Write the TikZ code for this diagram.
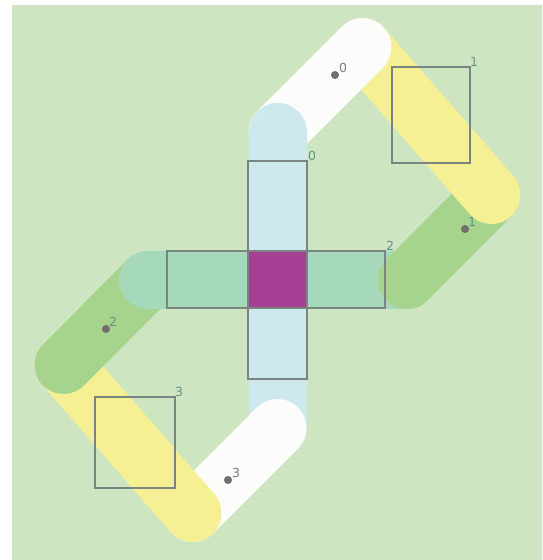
\documentclass[tikz,border=0pt]{standalone}
\usepackage{fontspec}
\setmainfont{DejaVu Sans}
\definecolor{bggreen}{RGB}{205,229,193}
\definecolor{segwhite}{RGB}{252,252,250}
\definecolor{segyellow}{RGB}{245,240,148}
\definecolor{seggreen}{RGB}{166,212,140}
\definecolor{segteal}{RGB}{166,216,186}
\definecolor{segblue}{RGB}{206,233,238}
\definecolor{cellmag}{RGB}{166,64,148}
\definecolor{boxgray}{RGB}{122,132,128}
\definecolor{dotgray}{RGB}{112,108,112}
\definecolor{labteal}{RGB}{95,150,130}
\definecolor{labgray}{RGB}{125,125,125}

\begin{document}
\begin{tikzpicture}[
    x=1pt, y=-1pt,
    seg/.style={line width=58pt, line cap=round},
    box/.style={draw=boxgray, line width=1.5pt},
    lbl/.style={anchor=base west, inner sep=0pt, text=labteal,
        font=\fontsize{12.5}{12.5}\selectfont},
    dotlbl/.style={lbl, text=labgray},
    pt/.style={circle, fill=dotgray, inner sep=0pt, minimum size=8pt},
]
\useasboundingbox (0,0) rectangle (542,560);
\fill[bggreen] (12,5) rectangle (542,560);

% ====== LOOP POINTS ======
\coordinate (cc) at (277.5,280);
\coordinate (ct) at (277.5,132);
\coordinate (cb) at (277.5,428);
\coordinate (pa) at (362.5,47);
\coordinate (pb) at (491.5,195);
\coordinate (pr) at (407,280);
\coordinate (pl) at (148,280);
\coordinate (qb) at (63.5,365);
\coordinate (qa) at (192.5,513);

% ====== SEGMENTS (bottom to top) ======
\foreach \a/\b/\c in {cc/cb/segblue, cb/qa/segwhite, qa/qb/segyellow,
    qb/pl/seggreen, pl/pr/segteal, pr/pb/seggreen,
    pb/pa/segyellow, pa/ct/segwhite, cc/ct/segblue}
    \draw[seg, draw=\c] (\a) -- (\b);

% ====== CROSS ======
\fill[cellmag] (248,251) rectangle (307,308);
\draw[box] (248,161) rectangle (307,379);
\draw[box] (167,251) rectangle (385,308);
\node[lbl] (lab-v) at (308,160) {0};
\node[lbl] (lab-h) at (386,250) {2};

% ====== BOXES ======
\draw[box] (392,67) rectangle (470,163);
\draw[box] (95,397) rectangle (175,488);
\node[lbl] (lab-b1) at (470,66) {1};
\node[lbl] (lab-b3) at (175,396) {3};

% ====== POINTS ======
\node[pt] (d0) at (335,75) {};
\node[pt] (d1) at (465,229) {};
\node[pt] (d2) at (106,329) {};
\node[pt] (d3) at (228,480) {};
\node[dotlbl] at ([xshift=4pt, yshift=3pt]d0.center) {0};
\node[lbl] at ([xshift=3pt, yshift=3pt]d1.center) {1};
\node[lbl] at ([xshift=3pt, yshift=3pt]d2.center) {2};
\node[dotlbl] at ([xshift=4pt, yshift=3pt]d3.center) {3};

\end{tikzpicture}
\end{document}
